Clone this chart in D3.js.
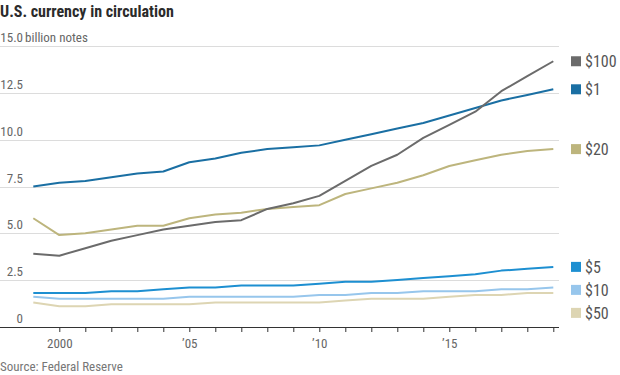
<!DOCTYPE html>
<html>
<head>
<meta charset="utf-8">
<script src="https://cdn.jsdelivr.net/npm/d3@7"></script>
<style>
  body { margin: 0; background: #fff; }
  svg text { font-family: "Liberation Sans Narrow", "Roboto Condensed", Roboto, sans-serif; }
</style>
</head>
<body>
<div id="chart"></div>
<script>
// data (billion notes)
const years = d3.range(1999, 2020);
const seriesNames = ["$100", "$1", "$20", "$5", "$10", "$50"];
const seriesColors = ["#6b6b6b", "#1a6fa3", "#bdb57d", "#1d8fd1", "#97c6ec", "#ddd5b3"];

const note100 = [3.9, 3.8, 4.2, 4.6, 4.9, 5.2, 5.4, 5.6, 5.7, 6.3, 6.6, 7.0, 7.8, 8.6, 9.2, 10.1, 10.8, 11.5, 12.6, 13.4, 14.2];
const note1   = [7.5, 7.7, 7.8, 8.0, 8.2, 8.3, 8.8, 9.0, 9.3, 9.5, 9.6, 9.7, 10.0, 10.3, 10.6, 10.9, 11.3, 11.7, 12.1, 12.4, 12.7];
const note20  = [5.8, 4.9, 5.0, 5.2, 5.4, 5.4, 5.8, 6.0, 6.1, 6.3, 6.4, 6.5, 7.1, 7.4, 7.7, 8.1, 8.6, 8.9, 9.2, 9.4, 9.5];
const note5   = [1.8, 1.8, 1.8, 1.9, 1.9, 2.0, 2.1, 2.1, 2.2, 2.2, 2.2, 2.3, 2.4, 2.4, 2.5, 2.6, 2.7, 2.8, 3.0, 3.1, 3.2];
const note10  = [1.6, 1.5, 1.5, 1.5, 1.5, 1.5, 1.6, 1.6, 1.6, 1.6, 1.6, 1.7, 1.7, 1.8, 1.8, 1.9, 1.9, 1.9, 2.0, 2.0, 2.1];
const note50  = [1.3, 1.1, 1.1, 1.2, 1.2, 1.2, 1.2, 1.3, 1.3, 1.3, 1.3, 1.3, 1.4, 1.5, 1.5, 1.5, 1.6, 1.7, 1.7, 1.8, 1.8];

const yTicks = [0, 2.5, 5, 7.5, 10, 12.5, 15];
const xLabels = { 2000: "2000", 2005: "\u201905", 2010: "\u201910", 2015: "\u201915" };

const seriesValues = [note100, note1, note20, note5, note10, note50];

const width = 620;
const height = 375;

const svg = d3.select("#chart").append("svg")
  .attr("width", width).attr("height", height);

const x = d3.scaleLinear().domain([1999, 2019]).range([33.3, 553.3]);
const y = d3.scaleLinear().domain([0, 15]).range([326.7, 46.3]);
const plotRight = 559;

// title
svg.append("text")
  .attr("x", 0).attr("y", 17)
  .attr("font-size", 16).attr("font-weight", "bold")
  .attr("fill", "#2b2b2b")
  .text("U.S. currency in circulation");

// gridlines
svg.append("g")
  .selectAll("line")
  .data(yTicks.filter(d => d > 0))
  .enter().append("line")
  .attr("x1", 0).attr("x2", plotRight)
  .attr("y1", d => Math.round(y(d)) + 0.5)
  .attr("y2", d => Math.round(y(d)) + 0.5)
  .attr("stroke", "#dcdcdc");

// y labels
svg.append("g")
  .selectAll("text")
  .data(yTicks)
  .enter().append("text")
  .attr("x", 23)
  .attr("y", d => y(d) - 4)
  .attr("text-anchor", "end")
  .attr("font-size", 13)
  .attr("fill", "#666")
  .text(d => d === 0 ? "0" : d.toFixed(1));

svg.append("text")
  .attr("x", 25).attr("y", y(15) - 4)
  .attr("font-size", 13).attr("fill", "#666")
  .text("billion notes");

// x axis
const xAxis = d3.axisBottom(x)
  .tickValues(d3.range(2000, 2020))
  .tickSize(5)
  .tickFormat(d => xLabels[d] || "");

const gx = svg.append("g")
  .attr("transform", "translate(0," + Math.round(y(0)) + ")")
  .call(xAxis);
gx.select(".domain").remove();
gx.selectAll(".tick line").attr("stroke", "#333");
gx.selectAll(".tick text")
  .attr("dy", 0).attr("y", 21)
  .attr("font-size", 13).attr("fill", "#666")
  .style("font-family", null);
gx.append("line")
  .attr("x1", 0).attr("x2", plotRight)
  .attr("y1", 0.5).attr("y2", 0.5)
  .attr("stroke", "#333");

// lines (drawn back to front)
const line = d3.line()
  .x((d, i) => x(years[i]))
  .y(d => y(d));

const order = [5, 4, 3, 2, 1, 0];
svg.append("g")
  .selectAll("path")
  .data(order)
  .enter().append("path")
  .attr("d", k => line(seriesValues[k]))
  .attr("fill", "none")
  .attr("stroke", k => seriesColors[k])
  .attr("stroke-width", 2)
  .attr("stroke-linejoin", "round");

// legend at line ends, pushed apart where they collide
const legendY = [];
const lastVals = seriesValues.map(v => y(v[v.length - 1]));
lastVals.forEach((v, i) => {
  let p = v;
  if (i > 0 && p < legendY[i - 1] + 23) p = legendY[i - 1] + 23;
  legendY.push(p);
});

const legend = svg.append("g")
  .selectAll("g")
  .data(seriesNames)
  .enter().append("g")
  .attr("transform", (d, i) => "translate(571," + legendY[i] + ")");

legend.append("rect")
  .attr("x", 0).attr("y", -5)
  .attr("width", 10).attr("height", 10)
  .attr("fill", (d, i) => seriesColors[i]);

legend.append("text")
  .attr("x", 14).attr("y", 6)
  .attr("font-size", 16).attr("fill", "#555")
  .text(d => d);

// source
svg.append("text")
  .attr("x", 0).attr("y", 371)
  .attr("font-size", 13).attr("fill", "#777")
  .text("Source: Federal Reserve");
</script>
</body>
</html>
